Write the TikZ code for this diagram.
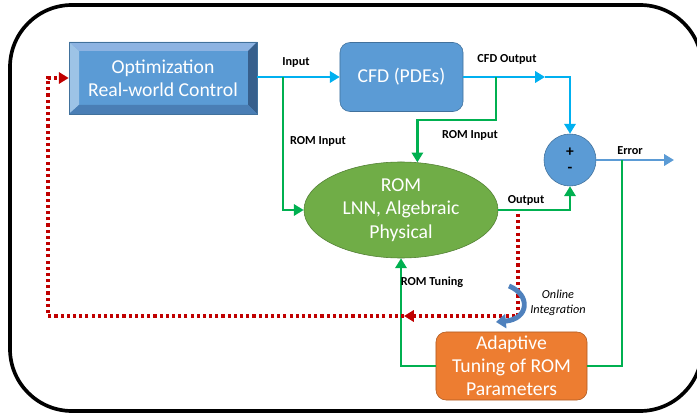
\documentclass[tikz,border=0pt]{standalone}
\usepackage{fontspec}
\setmainfont{Carlito}
\usetikzlibrary{arrows.meta,shapes.geometric}

\definecolor{bluefill}{HTML}{5B9BD5}
\definecolor{blueedge}{HTML}{41719C}
\definecolor{bevellight}{HTML}{9DC3E6}
\definecolor{bevelmid}{HTML}{8DB3E2}
\definecolor{beveldark}{HTML}{375F8C}
\definecolor{bevelbottom}{HTML}{4A7EB5}
\definecolor{cyanline}{HTML}{00B0F0}
\definecolor{greenline}{HTML}{00B050}
\definecolor{romfill}{HTML}{70AD47}
\definecolor{romedge}{HTML}{507E32}
\definecolor{tunefill}{HTML}{ED7D31}
\definecolor{tuneedge}{HTML}{AE5A21}
\definecolor{redline}{HTML}{C00000}
\definecolor{arcblue}{HTML}{4F81BD}

\begin{document}
\begin{tikzpicture}[x=0.025cm,y=-0.025cm,
    bigtext/.style={text=white,align=center,font=\fontsize{14}{16.5}\selectfont},
    tag/.style={font=\bfseries\fontsize{8.7}{10}\selectfont},
    cyanwire/.style={draw=cyanline,line width=2.1pt},
    greenwire/.style={draw=greenline,line width=2.1pt},
    redwire/.style={draw=redline,line width=2.2pt,dash pattern=on 2.2pt off 2.2pt},
    tip/.style={-{Triangle[length=7pt,width=8pt]}}]
    \useasboundingbox (0,0) rectangle (697,413);
    % frame
    \draw[line width=2.6pt,rounded corners=1.55cm] (10,5) rectangle (702,411);
    % blocks
    \node[bigtext,fill=bluefill,draw=blueedge,minimum width=4.7cm,minimum height=1.8cm] (opt) at (163,78) {};
    \fill[bevelmid] (69,42) -- (257,42) -- (248,51) -- (79,51) -- cycle;
    \fill[bevellight] (69,42) -- (79,51) -- (79,105) -- (69,114) -- cycle;
    \fill[beveldark] (257,42) -- (257,114) -- (248,105) -- (248,51) -- cycle;
    \fill[bevelbottom] (69,114) -- (257,114) -- (248,105) -- (79,105) -- cycle;
    \draw[blueedge,line width=0.6pt] (69,42) rectangle (257,114);
    \node[bigtext] (optText) at (163,78) {Optimization\\Real-world Control};
    \node[bigtext,fill=bluefill,draw=blueedge,rounded corners=0.25cm,minimum width=3.075cm,minimum height=1.725cm] (cfd) at (401.5,77) {CFD (PDEs)};
    \node[circle,fill=bluefill,draw=blueedge,minimum size=1.3cm,inner sep=0pt,align=center,font=\bfseries\fontsize{11}{11.5}\selectfont] (sum) at (570,160) {+\\-};
    \node[bigtext,ellipse,fill=romfill,draw=romedge,minimum width=4.85cm,minimum height=2.4cm,inner sep=0pt] (rom) at (401,210) {ROM\\LNN, Algebraic\\Physical};
    \node[bigtext,fill=tunefill,draw=tuneedge,rounded corners=0.25cm,minimum width=3.775cm,minimum height=1.7cm,inner sep=0pt] (tune) at (511.5,366) {Adaptive\\Tuning of ROM\\Parameters};
    % split points
    \coordinate (inSplit) at (283,77);
    \coordinate (cfdSplit) at (496,77);
    \coordinate (cfdMid) at (545,77);
    \coordinate (errSplit) at (622,160);
    \coordinate (errEnd) at (674,160);
    \coordinate (redStart) at (518,214);
    \coordinate (redMid) at (404,316);
    \coordinate (redCorner) at (48,316);
    % wires
    \draw[cyanwire,tip] (opt.east |- inSplit) -- (cfd.west |- inSplit);
    \draw[cyanwire,tip] (cfd.east |- cfdMid) -- (cfdMid);
    \draw[cyanwire,tip] (cfdMid) -| (sum.north);
    \draw[greenwire,tip] (inSplit) |- (rom.west);
    \draw[greenwire,tip] (cfdSplit) -- (496,120) -| (rom.71);
    \draw[greenwire,tip] (rom.east) -| (sum.south);
    \draw[draw=bluefill,line width=2.1pt,tip] (sum.east) -- (errEnd);
    \draw[greenwire] (errSplit) |- (tune.east);
    \draw[greenwire,tip] (tune.west) -| (rom.south);
    \draw[redwire,tip] (redStart) |- (redMid);
    \draw[redwire,tip] (redMid) -- (redCorner) |- (opt.west);
    \draw[arcblue,line width=3.5pt,-{Triangle[length=7pt,width=10pt]}] (509,286) .. controls (531,295) and (529,319) .. (496,322);
    % labels
    \node[tag] (inTag) at (296,62) {Input};
    \node[tag] (cfdOutTag) at (507,59) {CFD Output};
    \node[tag] (romInA) at (318,141) {ROM Input};
    \node[tag] (romInB) at (470,135) {ROM Input};
    \node[tag] (outTag) at (526,200) {Output};
    \node[tag] (errTag) at (630,151) {Error};
    \node[tag] (tuneTag) at (432,282) {ROM Tuning};
    \node[align=center,font=\itshape\fontsize{8.7}{11}\selectfont] (onlineTag) at (558,303) {Online\\Integration};
\end{tikzpicture}
\end{document}
